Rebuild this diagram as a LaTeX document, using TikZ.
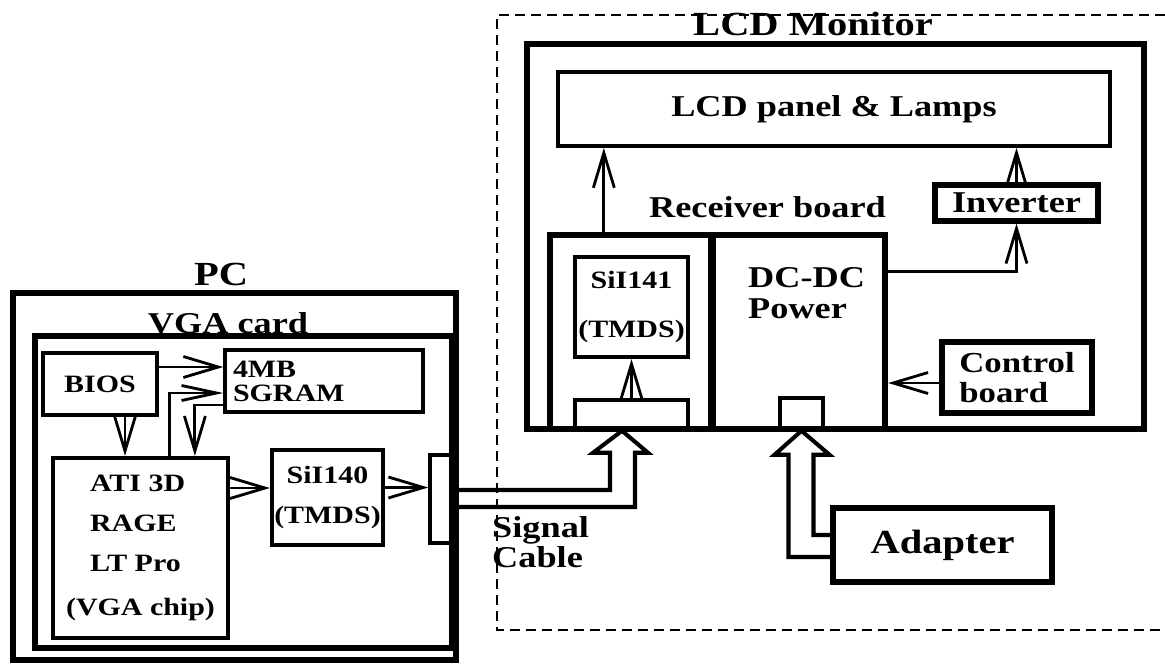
\documentclass[tikz,border=0pt]{standalone}
\usepackage{fontspec}
\setmainfont{Liberation Serif}[FakeStretch=1.2]
\usetikzlibrary{arrows.meta, calc}
\newcommand\bfsize[2]{\fontsize{#1}{#2}\selectfont\bfseries}

\begin{document}
\begin{tikzpicture}[x=0.2mm, y=-0.2mm,
    outer/.style={draw, line width=3.6pt, inner sep=0pt},
    blk/.style={draw, line width=2.4pt, inner sep=0pt,
                font=\bfsize{14.2pt}{22.7pt}},
    slot/.style={draw, line width=2pt, inner sep=0pt},
    title/.style={font=\bfsize{19.2pt}{20pt}},
    lbl/.style={font=\bfsize{17.2pt}{17.2pt}, align=left},
    arr/.style={-{Straight Barb[length=7mm, width=4.2mm]}, line width=1.6pt},
    hollow/.style={line width=2.3pt},
    monitor/.style={line width=0.6pt, dash pattern=on 2mm off 1.2mm}
  ]
  \useasboundingbox (0,0) rectangle (1165,663);

  % PC side
  \node[outer, minimum width=88.6mm, minimum height=73.4mm] (pc) at (234.5,476.5) {};
  \node[outer, line width=3.2pt, minimum width=83.4mm, minimum height=62.4mm] (vga) at (243.5,492) {};
  \node[title, anchor=base] (pclbl) at (221,285) {PC};
  \node[lbl, anchor=base] (vgalbl) at (228,333) {VGA card};
  \node[blk, line width=2pt, minimum width=22.8mm, minimum height=12.4mm] (bios) at (100,384) {BIOS};
  \node[blk, line width=2pt, minimum width=39.6mm, minimum height=12.4mm,
        text width=36.4mm, align=left, font=\bfsize{14.2pt}{13.6pt}] (sgram) at (324,381) {4MB\\SGRAM};
  \node[blk, minimum width=35mm, minimum height=36mm, align=left] (ati) at (140.5,548)
        {\hspace*{4.8mm}ATI 3D\\\hspace*{4.8mm}RAGE\\\hspace*{4.8mm}LT Pro\\[0.8mm](VGA chip)};
  \node[blk, minimum width=22.2mm, minimum height=19mm, align=center] (sil140) at (327.5,497.5) {SiI140\\(TMDS)};
  \node[slot, minimum width=4.4mm, minimum height=17.6mm] (pcconn) at (441,499) {};

  \coordinate (bs) at ([yshift=3.4mm]bios.east);
  \coordinate (ba) at ([xshift=5mm]bios.south);
  \coordinate (as) at ([xshift=23.8mm]ati.north west);
  \coordinate (sa) at ([xshift=28.8mm]ati.north west);
  \coordinate (ts) at ([yshift=1.9mm]sil140.west);
  \coordinate (tc) at ([yshift=2mm]sil140.east);
  \draw[arr] (bs) -- (bs -| sgram.west);
  \draw[arr] (ba) -- (ba |- ati.north);
  \draw[arr, -{Straight Barb[length=7mm, width=3mm]}] (as) |- ([yshift=-2.4mm]sgram.west);
  \draw[arr] ([yshift=-4.8mm]sgram.west) -| (sa);
  \draw[arr] (ts -| ati.east) -- (ts);
  \draw[arr] (tc) -- (tc -| pcconn.west);

  % LCD monitor
  \draw[monitor] (1165,15) -- (497,15) -- (497,630) -- (1165,630);
  \node[title, anchor=base] (lcdlbl) at (813,35) {LCD Monitor};
  \node[outer, minimum width=123.4mm, minimum height=77mm] (lcd) at (835.5,236.5) {};
  \node[blk, line width=2.2pt, minimum width=110.4mm, minimum height=14.8mm,
        font=\bfsize{17.2pt}{17.2pt}] (panel) at (834,109) {LCD panel \& Lamps};
  \node[outer, line width=3pt, minimum width=32.6mm, minimum height=7.2mm,
        font=\bfsize{17.2pt}{17.2pt}] (inv) at (1016.5,203) {Inverter};
  \node[lbl, anchor=base] (rxlbl) at (767.5,217) {Receiver board};
  \node[outer, minimum width=67mm, minimum height=38.8mm] (rx) at (717.5,332) {};
  \draw[line width=4.6pt] ([xshift=33mm]rx.north west) -- ([xshift=33mm]rx.south west);
  \node[blk, minimum width=22.6mm, minimum height=20mm, align=center,
        font=\bfsize{14.2pt}{27.8pt}] (sii141) at (631.5,307) {SiI141\\(TMDS)};
  \node[slot, minimum width=22.6mm, minimum height=5.8mm] (rxcon) at (631.5,414.5) {};
  \node[lbl, anchor=base west, font=\bfsize{17.2pt}{17.6pt}] (dcdc) at (742,318) {DC-DC\\Power};
  \node[slot, minimum width=8.6mm, minimum height=6.2mm] (pwcon) at (801.5,413.5) {};
  \node[outer, line width=3pt, minimum width=30mm, minimum height=14.2mm, align=left,
        font=\bfsize{16.5pt}{17pt}] (ctrl) at (1017,377.5) {Control\\board};
  \node[outer, line width=3.2pt, minimum width=43.8mm, minimum height=14.8mm,
        font=\bfsize{19.2pt}{20pt}] (adapter) at (942.5,545) {Adapter};
  \node[lbl, anchor=base west, font=\bfsize{17.2pt}{17pt}] (cable) at (486,567) {Signal\\Cable};

  \coordinate (rxout) at ([xshift=11.4mm]rx.north west);
  \coordinate (dcout) at ([yshift=-8mm]rx.north east);
  \coordinate (ctin) at ([yshift=-1.1mm]ctrl.west);
  \draw[arr] (rxout) -- (rxout |- panel.south);
  \draw[arr] (inv.north) -- (inv.north |- panel.south);
  \draw[arr] (dcout) -| (inv.south);
  \draw[arr] (ctin) -- (ctin -| rx.east);
  \draw[arr] (rxcon.north) -- (sii141.south);

  % Cable and power feed
  \coordinate (sigtip) at ([xshift=-1.9mm]rxcon.south);
  \draw[hollow] ([yshift=1.8mm]pcconn.east) -| ([shift={(-12,22)}]sigtip) -- ++(-17,0)
        -- (sigtip) -- ++(26,22) -- ++(-13,0) |- ([yshift=-1.6mm]pcconn.east);
  \draw[hollow] ([yshift=2mm]adapter.west) -| ([shift={(12,24)}]pwcon.south) -- ++(16,0)
        -- (pwcon.south) -- ++(-27,24) -- ++(14,0) |- ([yshift=-2.4mm]adapter.west);
\end{tikzpicture}
\end{document}
